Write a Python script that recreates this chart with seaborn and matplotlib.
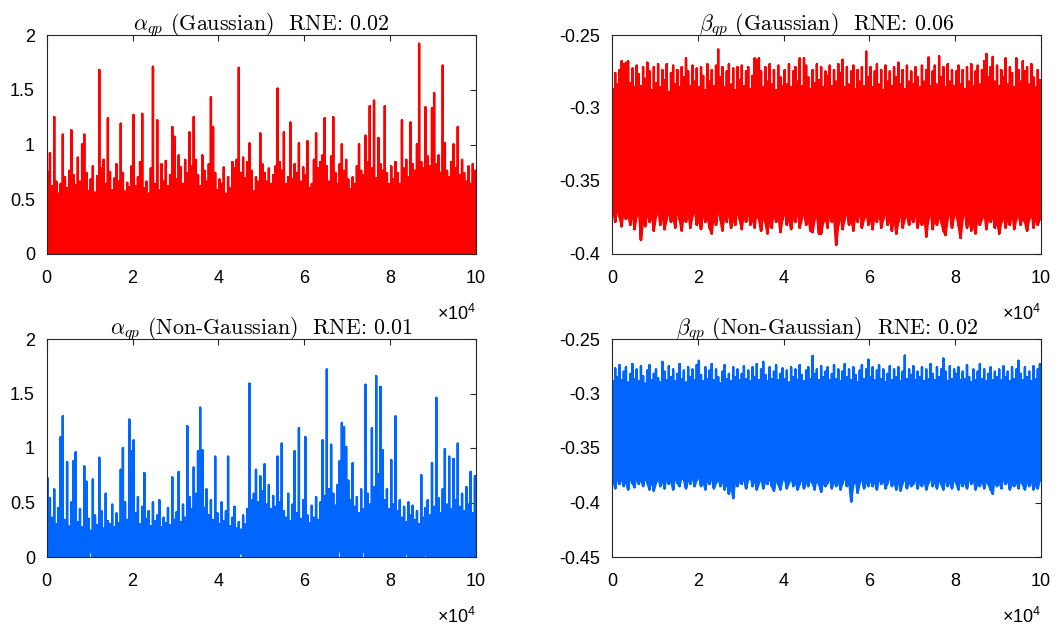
import numpy as np
import pandas as pd
import matplotlib
matplotlib.use("Agg")
import matplotlib.pyplot as plt
import seaborn as sns
from matplotlib.ticker import FuncFormatter, MultipleLocator

# each value is the min / max of the trace inside one 500-sample column
BIN = 500

alpha_g_hi = [
    0.75, 0.92, 0.62, 1.25, 0.66, 0.55, 0.64, 1.09, 0.70, 0.60, 0.76, 1.13, 0.72, 0.63, 0.88, 0.66, 1.00, 1.09, 0.74, 0.57,
    0.68, 0.80, 0.56, 0.71, 1.68, 0.78, 0.86, 0.64, 1.24, 0.75, 0.58, 0.69, 0.82, 0.66, 1.19, 0.74, 0.57, 0.65, 0.61, 0.80,
    1.27, 0.62, 0.70, 0.84, 1.28, 0.60, 0.66, 0.55, 0.78, 1.71, 0.64, 1.22, 0.58, 0.82, 0.66, 0.85, 0.62, 0.72, 1.16, 1.07,
    0.68, 0.90, 0.79, 0.64, 0.86, 0.74, 1.11, 0.80, 1.25, 0.86, 0.72, 0.62, 0.90, 0.76, 0.66, 0.82, 1.43, 1.16, 0.74, 0.58,
    0.68, 0.64, 0.79, 0.55, 0.70, 0.60, 0.84, 0.78, 0.86, 1.70, 0.74, 0.88, 0.69, 0.84, 1.01, 0.76, 0.57, 0.70, 0.66, 1.10,
    0.82, 0.74, 0.66, 0.78, 0.64, 0.72, 0.80, 1.51, 0.84, 0.76, 1.11, 0.64, 0.70, 1.20, 0.68, 0.82, 0.74, 1.01, 0.66, 0.79,
    0.72, 1.03, 0.60, 0.64, 0.86, 1.10, 0.78, 0.84, 0.90, 1.24, 0.80, 0.66, 0.89, 1.25, 0.74, 0.64, 0.82, 1.00, 0.76, 0.86,
    0.68, 0.59, 0.70, 0.64, 0.80, 1.00, 0.76, 0.72, 1.08, 0.84, 1.35, 0.78, 1.40, 0.69, 1.06, 0.82, 0.76, 1.35, 0.74, 0.64,
    0.80, 0.68, 0.84, 0.74, 0.64, 1.22, 0.78, 0.86, 0.70, 1.20, 0.82, 0.76, 1.00, 1.92, 0.84, 0.78, 1.34, 0.89, 0.80, 1.33,
    1.47, 0.82, 0.90, 0.74, 1.72, 1.01, 0.76, 0.70, 0.84, 1.00, 0.78, 1.16, 0.72, 0.86, 0.74, 0.66, 0.80, 0.64, 0.82, 0.76,
]
alpha_g_lo = [
    0, 0, 0, 0, 0, 0, 0, 0, 0, 0, 0, 0, 0, 0, 0, 0, 0, 0, 0, 0,
    0, 0, 0, 0, 0, 0, 0, 0, 0, 0, 0, 0, 0, 0, 0, 0, 0, 0, 0, 0,
    0, 0, 0, 0, 0, 0, 0, 0, 0, 0, 0, 0, 0, 0, 0, 0, 0, 0, 0, 0,
    0, 0, 0, 0, 0, 0, 0, 0, 0, 0, 0, 0, 0, 0, 0, 0, 0, 0, 0, 0,
    0, 0, 0, 0, 0, 0, 0, 0, 0, 0, 0, 0, 0, 0, 0, 0, 0, 0, 0, 0,
    0, 0, 0, 0, 0, 0, 0, 0, 0, 0, 0, 0, 0, 0, 0, 0, 0, 0, 0, 0,
    0, 0, 0, 0, 0, 0, 0, 0, 0, 0, 0, 0, 0, 0, 0, 0, 0, 0, 0, 0,
    0, 0, 0, 0, 0, 0, 0, 0, 0, 0, 0, 0, 0, 0, 0, 0, 0, 0, 0, 0,
    0, 0, 0, 0, 0, 0, 0, 0, 0, 0, 0, 0, 0, 0, 0, 0, 0, 0, 0, 0,
    0, 0, 0, 0, 0, 0, 0, 0, 0, 0, 0, 0, 0, 0, 0, 0, 0, 0, 0, 0,
]

beta_g_hi = [
    -0.287, -0.276, -0.284, -0.274, -0.268, -0.270, -0.269, -0.268, -0.283, -0.273, -0.286, -0.271, -0.277, -0.285, -0.272, -0.280, -0.269, -0.275, -0.288, -0.272,
    -0.283, -0.270, -0.286, -0.274, -0.281, -0.270, -0.289, -0.276, -0.271, -0.284, -0.274, -0.286, -0.272, -0.279, -0.266, -0.275, -0.285, -0.271, -0.282, -0.273,
    -0.286, -0.272, -0.278, -0.288, -0.270, -0.282, -0.274, -0.285, -0.271, -0.260, -0.279, -0.272, -0.286, -0.275, -0.270, -0.284, -0.273, -0.288, -0.272, -0.281,
    -0.271, -0.285, -0.275, -0.272, -0.287, -0.278, -0.266, -0.267, -0.266, -0.275, -0.286, -0.272, -0.282, -0.270, -0.284, -0.274, -0.288, -0.271, -0.279, -0.285,
    -0.274, -0.284, -0.270, -0.286, -0.275, -0.272, -0.282, -0.266, -0.285, -0.266, -0.271, -0.279, -0.287, -0.274, -0.283, -0.270, -0.281, -0.272, -0.286, -0.275,
    -0.278, -0.271, -0.285, -0.274, -0.282, -0.270, -0.276, -0.267, -0.286, -0.272, -0.284, -0.275, -0.271, -0.287, -0.274, -0.282, -0.272, -0.285, -0.2614, -0.279,
    -0.272, -0.286, -0.275, -0.270, -0.284, -0.274, -0.288, -0.271, -0.282, -0.275, -0.285, -0.272, -0.279, -0.269, -0.284, -0.274, -0.287, -0.271, -0.282, -0.275,
    -0.284, -0.272, -0.279, -0.286, -0.271, -0.282, -0.274, -0.2655, -0.285, -0.275, -0.271, -0.284, -0.2645, -0.279, -0.272, -0.286, -0.270, -0.282, -0.274, -0.285,
    -0.275, -0.271, -0.284, -0.274, -0.287, -0.272, -0.282, -0.270, -0.285, -0.275, -0.271, -0.284, -0.274, -0.268, -0.263, -0.279, -0.272, -0.265, -0.282, -0.271,
    -0.285, -0.274, -0.279, -0.266, -0.284, -0.272, -0.276, -0.286, -0.266, -0.274, -0.282, -0.268, -0.275, -0.272, -0.284, -0.270, -0.279, -0.286, -0.274, -0.281,
]
beta_g_lo = [
    -0.369, -0.378, -0.367, -0.374, -0.381, -0.368, -0.376, -0.372, -0.380, -0.369, -0.383, -0.374, -0.368, -0.3904, -0.376, -0.381, -0.369, -0.378, -0.372, -0.384,
    -0.374, -0.368, -0.380, -0.372, -0.383, -0.376, -0.369, -0.378, -0.374, -0.382, -0.367, -0.376, -0.384, -0.372, -0.378, -0.369, -0.382, -0.374, -0.368, -0.380,
    -0.376, -0.383, -0.369, -0.378, -0.374, -0.382, -0.386, -0.372, -0.380, -0.367, -0.376, -0.384, -0.372, -0.378, -0.369, -0.382, -0.374, -0.380, -0.368, -0.376,
    -0.383, -0.372, -0.378, -0.368, -0.380, -0.374, -0.382, -0.369, -0.376, -0.384, -0.372, -0.378, -0.386, -0.374, -0.382, -0.369, -0.378, -0.372, -0.385, -0.376,
    -0.369, -0.380, -0.374, -0.383, -0.372, -0.378, -0.367, -0.382, -0.376, -0.369, -0.380, -0.374, -0.384, -0.385, -0.376, -0.372, -0.386, -0.386, -0.378, -0.374,
    -0.382, -0.369, -0.378, -0.374, -0.3938, -0.380, -0.372, -0.383, -0.376, -0.369, -0.380, -0.374, -0.384, -0.372, -0.378, -0.367, -0.382, -0.376, -0.369, -0.380,
    -0.374, -0.383, -0.372, -0.378, -0.369, -0.382, -0.376, -0.368, -0.380, -0.374, -0.384, -0.372, -0.386, -0.378, -0.369, -0.382, -0.376, -0.372, -0.380, -0.374,
    -0.378, -0.369, -0.382, -0.374, -0.380, -0.372, -0.388, -0.376, -0.369, -0.383, -0.374, -0.380, -0.372, -0.378, -0.384, -0.387, -0.376, -0.369, -0.382, -0.374,
    -0.372, -0.380, -0.389, -0.376, -0.369, -0.382, -0.374, -0.384, -0.378, -0.386, -0.372, -0.380, -0.376, -0.369, -0.383, -0.374, -0.378, -0.372, -0.382, -0.376,
    -0.386, -0.378, -0.372, -0.382, -0.374, -0.380, -0.369, -0.383, -0.376, -0.372, -0.380, -0.374, -0.378, -0.384, -0.376, -0.369, -0.382, -0.374, -0.380, -0.376,
]

alpha_ng_hi = [
    0.72, 0.54, 0.36, 0.62, 0.30, 0.45, 1.10, 1.29, 0.34, 0.87, 0.28, 0.50, 0.88, 0.96, 0.32, 0.44, 0.27, 0.83, 0.69, 0.35,
    0.24, 0.71, 0.38, 0.29, 0.91, 0.42, 0.26, 0.58, 0.33, 0.30, 0.48, 0.27, 0.40, 0.31, 0.80, 1.00, 0.50, 0.34, 1.26, 0.97,
    1.07, 0.40, 0.55, 0.30, 0.46, 0.77, 0.35, 0.42, 0.28, 0.50, 0.33, 0.38, 0.52, 0.27, 0.36, 0.31, 0.45, 0.29, 0.73, 0.34,
    0.41, 0.78, 0.32, 0.48, 0.36, 1.20, 0.55, 0.44, 0.82, 0.58, 0.97, 1.37, 0.98, 0.45, 0.62, 0.38, 0.52, 0.34, 0.92, 0.40,
    0.30, 0.50, 0.33, 0.42, 0.92, 0.28, 0.36, 0.46, 0.26, 0.32, 0.25, 0.38, 0.30, 0.44, 1.59, 0.52, 0.58, 0.80, 0.50, 0.74,
    0.60, 0.85, 0.48, 0.66, 0.44, 0.56, 0.46, 0.92, 0.50, 1.04, 0.42, 0.36, 0.58, 0.33, 0.48, 0.97, 0.40, 1.18, 0.35, 0.52,
    1.10, 0.38, 0.31, 0.47, 0.36, 0.55, 0.34, 0.50, 1.07, 0.56, 1.72, 0.62, 1.03, 0.58, 0.47, 0.66, 0.88, 1.23, 1.19, 1.01,
    0.70, 0.52, 0.86, 0.46, 0.55, 0.40, 0.62, 0.44, 1.58, 0.58, 0.48, 1.18, 0.64, 1.66, 0.76, 1.56, 0.98, 0.52, 0.62, 0.44,
    0.89, 0.48, 1.29, 0.42, 0.52, 0.36, 0.46, 0.32, 0.50, 0.38, 0.47, 0.34, 0.42, 0.30, 0.75, 0.36, 0.45, 0.52, 0.38, 0.86,
    0.46, 1.46, 0.54, 0.40, 0.62, 0.99, 0.48, 0.92, 0.44, 0.90, 0.52, 1.04, 0.46, 0.58, 0.42, 0.64, 0.48, 0.78, 0.40, 0.74,
]
alpha_ng_lo = [
    0, 0, 0, 0, 0, 0, 0, 0, 0, 0, 0, 0, 0, 0, 0, 0, 0, 0, 0, 0,
    0.10, 0, 0, 0, 0, 0, 0, 0, 0, 0, 0, 0, 0, 0, 0, 0, 0, 0, 0, 0,
    0, 0, 0, 0, 0, 0, 0, 0, 0, 0, 0, 0, 0, 0, 0, 0, 0, 0, 0, 0,
    0, 0, 0, 0, 0, 0, 0, 0, 0, 0, 0, 0, 0, 0, 0, 0, 0, 0, 0, 0,
    0, 0, 0, 0, 0, 0, 0, 0, 0, 0, 0.08, 0, 0, 0, 0, 0, 0, 0, 0, 0,
    0, 0, 0, 0, 0, 0, 0, 0, 0, 0, 0, 0, 0, 0, 0, 0, 0, 0, 0, 0,
    0, 0, 0, 0, 0, 0, 0, 0, 0, 0, 0, 0, 0, 0, 0, 0, 0.12, 0, 0, 0,
    0, 0, 0, 0, 0, 0, 0, 0.10, 0, 0, 0, 0, 0, 0, 0, 0, 0, 0, 0, 0,
    0, 0, 0, 0, 0, 0, 0, 0.05, 0, 0, 0, 0, 0, 0, 0, 0, 0.03, 0, 0, 0,
    0, 0, 0, 0, 0, 0, 0, 0, 0, 0, 0, 0, 0, 0, 0, 0, 0, 0, 0, 0,
]

beta_ng_hi = [
    -0.289, -0.277, -0.285, -0.274, -0.288, -0.280, -0.276, -0.290, -0.282, -0.273, -0.287, -0.278, -0.289, -0.275, -0.284, -0.291, -0.279, -0.274, -0.288, -0.282,
    -0.278, -0.286, -0.290, -0.271, -0.280, -0.288, -0.275, -0.285, -0.278, -0.289, -0.282, -0.273, -0.287, -0.279, -0.290, -0.276, -0.285, -0.278, -0.288, -0.274,
    -0.270, -0.283, -0.289, -0.276, -0.287, -0.279, -0.273, -0.288, -0.278, -0.285, -0.291, -0.280, -0.274, -0.287, -0.282, -0.289, -0.276, -0.285, -0.278, -0.288,
    -0.282, -0.275, -0.287, -0.279, -0.289, -0.276, -0.285, -0.273, -0.288, -0.278, -0.271, -0.283, -0.289, -0.276, -0.287, -0.280, -0.274, -0.288, -0.282, -0.277,
    -0.287, -0.279, -0.290, -0.276, -0.285, -0.278, -0.288, -0.274, -0.283, -0.289, -0.279, -0.276, -0.287, -0.2656, -0.282, -0.278, -0.288, -0.275, -0.285, -0.280,
    -0.276, -0.288, -0.282, -0.274, -0.287, -0.278, -0.289, -0.280, -0.273, -0.285, -0.278, -0.288, -0.276, -0.283, -0.290, -0.279, -0.274, -0.287, -0.278, -0.269,
    -0.285, -0.276, -0.288, -0.279, -0.274, -0.287, -0.278, -0.290, -0.282, -0.275, -0.288, -0.278, -0.285, -0.276, -0.289, -0.280, -0.2653, -0.287, -0.278, -0.283,
    -0.275, -0.288, -0.280, -0.285, -0.276, -0.289, -0.278, -0.287, -0.273, -0.282, -0.288, -0.276, -0.285, -0.278, -0.268, -0.280, -0.289, -0.275, -0.287, -0.278,
    -0.282, -0.276, -0.288, -0.280, -0.287, -0.274, -0.285, -0.290, -0.278, -0.288, -0.280, -0.273, -0.287, -0.278, -0.289, -0.282, -0.276, -0.288, -0.280, -0.285,
    -0.278, -0.288, -0.275, -0.285, -0.280, -0.289, -0.276, -0.287, -0.278, -0.270, -0.282, -0.288, -0.276, -0.285, -0.280, -0.289, -0.275, -0.287, -0.278, -0.273,
]
beta_ng_lo = [
    -0.378, -0.387, -0.375, -0.383, -0.376, -0.385, -0.378, -0.388, -0.375, -0.382, -0.386, -0.374, -0.383, -0.377, -0.385, -0.375, -0.382, -0.388, -0.377, -0.389,
    -0.382, -0.375, -0.385, -0.377, -0.387, -0.375, -0.383, -0.379, -0.388, -0.374, -0.382, -0.385, -0.375, -0.379, -0.387, -0.377, -0.383, -0.374, -0.385, -0.379,
    -0.375, -0.385, -0.379, -0.388, -0.377, -0.383, -0.374, -0.387, -0.382, -0.375, -0.385, -0.377, -0.388, -0.379, -0.392, -0.383, -0.396, -0.377, -0.385, -0.379,
    -0.383, -0.375, -0.387, -0.379, -0.374, -0.385, -0.377, -0.388, -0.382, -0.375, -0.387, -0.379, -0.383, -0.375, -0.385, -0.389, -0.377, -0.383, -0.388, -0.379,
    -0.377, -0.387, -0.382, -0.374, -0.385, -0.379, -0.388, -0.383, -0.375, -0.387, -0.379, -0.385, -0.377, -0.382, -0.388, -0.375, -0.383, -0.390, -0.379, -0.385,
    -0.382, -0.375, -0.387, -0.379, -0.385, -0.377, -0.388, -0.382, -0.374, -0.385, -0.379, -0.399, -0.383, -0.377, -0.391, -0.382, -0.375, -0.387, -0.379, -0.385,
    -0.377, -0.385, -0.379, -0.388, -0.375, -0.383, -0.377, -0.387, -0.382, -0.374, -0.385, -0.379, -0.388, -0.377, -0.389, -0.382, -0.375, -0.387, -0.379, -0.385,
    -0.383, -0.375, -0.387, -0.379, -0.385, -0.377, -0.388, -0.382, -0.375, -0.385, -0.379, -0.387, -0.377, -0.383, -0.388, -0.375, -0.385, -0.379, -0.387, -0.377,
    -0.382, -0.388, -0.377, -0.385, -0.379, -0.387, -0.375, -0.383, -0.377, -0.388, -0.382, -0.385, -0.377, -0.387, -0.379, -0.383, -0.388, -0.392, -0.377, -0.385,
    -0.379, -0.387, -0.375, -0.383, -0.377, -0.388, -0.382, -0.385, -0.379, -0.387, -0.377, -0.383, -0.388, -0.379, -0.385, -0.377, -0.388, -0.382, -0.387, -0.379,
]

titles = [
    r"$\alpha_{qp}$ (Gaussian)  RNE: 0.02",
    r"$\beta_{qp}$ (Gaussian)  RNE: 0.06",
    r"$\alpha_{qp}$ (Non-Gaussian)  RNE: 0.01",
    r"$\beta_{qp}$ (Non-Gaussian)  RNE: 0.02",
]

RED = "#ff0000"
BLUE = "#0066ff"


def trace(lo, hi):
    # each column is drawn as a stroke from its min up to its max and back
    xs, ys = [], []
    for i, (a, b) in enumerate(zip(lo, hi)):
        x = (i + 0.5) * BIN
        xs += [x, x, x]
        ys += [a, b, a]
    return pd.DataFrame({"n": xs, "v": ys})


sns.set_theme(style="white")
plt.rcParams["font.family"] = ["Liberation Sans", "DejaVu Sans"]
plt.rcParams["axes.unicode_minus"] = False
plt.rcParams["mathtext.fontset"] = "custom"
plt.rcParams["mathtext.rm"] = "Liberation Sans"
plt.rcParams["path.simplify"] = False

fig = plt.figure(figsize=(10.62, 6.3), dpi=100)
W, H = 1062, 630
rects = [
    (46.7, 35, 476, 254),
    (612, 35, 1041, 254),
    (46.7, 339, 476, 557),
    (612, 339, 1041, 557),
]
panels = [
    (alpha_g_lo, alpha_g_hi, RED, (0, 2), 0.5),
    (beta_g_lo, beta_g_hi, RED, (-0.4, -0.25), 0.05),
    (alpha_ng_lo, alpha_ng_hi, BLUE, (0, 2), 0.5),
    (beta_ng_lo, beta_ng_hi, BLUE, (-0.45, -0.25), 0.05),
]

for (x0, y0, x1, y1), (lo, hi, c, ylim, ystep), title in zip(rects, panels, titles):
    ax = fig.add_axes([x0 / W, 1 - y1 / H, (x1 - x0) / W, (y1 - y0) / H])
    df = trace(lo, hi)
    sns.lineplot(data=df, x="n", y="v", sort=False, estimator=None, errorbar=None,
                 color=c, lw=1.7, ax=ax)
    for ln in ax.lines:
        ln.set_snap(False)
    ax.set_xlim(0, 100000)
    ax.set_ylim(*ylim)
    ax.xaxis.set_major_locator(MultipleLocator(20000))
    ax.xaxis.set_major_formatter(FuncFormatter(lambda v, p: "%g" % (v / 1e4)))
    ax.yaxis.set_major_locator(MultipleLocator(ystep))
    ax.yaxis.set_major_formatter(FuncFormatter(lambda v, p: "%g" % round(v, 4)))
    ax.set_xlabel("")
    ax.set_ylabel("")
    ax.tick_params(direction="in", top=True, right=True, length=4, width=0.8,
                   labelsize=13, colors="#262626", labelcolor="black")
    ax.tick_params(axis="x", pad=11.5)
    ax.tick_params(axis="y", pad=8.5)
    for s in ax.spines.values():
        s.set_color("#262626")
        s.set_linewidth(0.8)
    ax.set_title(title, fontsize=15.8, fontfamily="cmr10", math_fontfamily="cm",
                 pad=3.5, color="black")
    # x10^4 exponent label under the right end of the axis
    ax.text(1.0, -66 / (y1 - y0), r"$\times10^{4}$", transform=ax.transAxes,
            ha="right", va="baseline", fontsize=13, color="black")

fig.savefig("out.png", dpi=100)
